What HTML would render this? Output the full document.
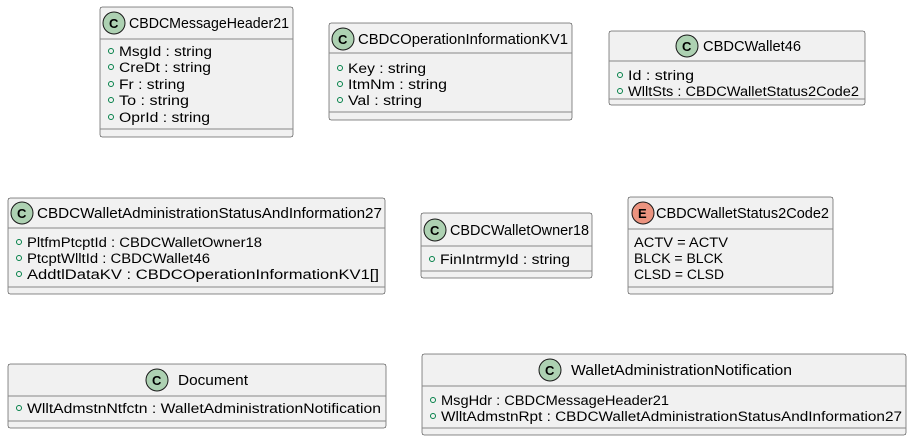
<!DOCTYPE html>
<html><head><meta charset="utf-8"><style>
html,body{margin:0;padding:0;background:#fff;}
svg{display:block;font-family:"Liberation Sans",sans-serif;}
.b{fill:#F1F1F1;stroke:#181818;stroke-width:0.5;}
.s{stroke:#888;stroke-width:1;}
.t{font-size:14.5px;fill:#000;}
.a{font-size:13.5px;fill:#000;}
.v{fill:none;stroke:#038048;stroke-width:1;}
.ci{fill:#ADD1B2;stroke:#181818;stroke-width:1;}
.ei{fill:#EB937F;stroke:#181818;stroke-width:1;}
.l{font-size:13px;font-weight:bold;fill:#000;}
</style></head><body>
<svg width="913" height="441" viewBox="0 0 913 441" xmlns="http://www.w3.org/2000/svg">
<!-- Box1 -->
<rect class="b" x="100" y="7" width="193" height="130" rx="2"/>
<line class="s" x1="100" y1="39" x2="293" y2="39"/><line class="s" x1="100" y1="129" x2="293" y2="129"/>
<circle class="ci" cx="114" cy="23" r="11"/><text class="l" x="109" y="28">C</text>
<text class="t" x="129" y="28" textLength="160" lengthAdjust="spacingAndGlyphs">CBDCMessageHeader21</text>
<circle class="v" cx="111" cy="51" r="2.5"/><text class="a" x="119" y="56" textLength="93" lengthAdjust="spacingAndGlyphs">MsgId : string</text>
<circle class="v" cx="111" cy="67" r="2.5"/><text class="a" x="119" y="72" textLength="92" lengthAdjust="spacingAndGlyphs">CreDt : string</text>
<circle class="v" cx="111" cy="84" r="2.5"/><text class="a" x="119" y="89" textLength="66" lengthAdjust="spacingAndGlyphs">Fr : string</text>
<circle class="v" cx="111" cy="100" r="2.5"/><text class="a" x="119" y="105" textLength="70" lengthAdjust="spacingAndGlyphs">To : string</text>
<circle class="v" cx="111" cy="117" r="2.5"/><text class="a" x="119" y="122" textLength="91" lengthAdjust="spacingAndGlyphs">OprId : string</text>
<!-- Box2 -->
<rect class="b" x="329" y="23" width="243" height="97" rx="2"/>
<line class="s" x1="329" y1="53" x2="572" y2="53"/><line class="s" x1="329" y1="112" x2="572" y2="112"/>
<circle class="ci" cx="343" cy="39" r="11"/><text class="l" x="338" y="44">C</text>
<text class="t" x="358" y="44" textLength="210" lengthAdjust="spacingAndGlyphs">CBDCOperationInformationKV1</text>
<circle class="v" cx="340" cy="68" r="2.5"/><text class="a" x="348" y="73" textLength="78" lengthAdjust="spacingAndGlyphs">Key : string</text>
<circle class="v" cx="340" cy="84" r="2.5"/><text class="a" x="348" y="89" textLength="99" lengthAdjust="spacingAndGlyphs">ItmNm : string</text>
<circle class="v" cx="340" cy="100" r="2.5"/><text class="a" x="348" y="105" textLength="74" lengthAdjust="spacingAndGlyphs">Val : string</text>
<!-- Box3 -->
<rect class="b" x="609" y="31" width="256" height="74" rx="2"/>
<line class="s" x1="609" y1="61" x2="865" y2="61"/><line class="s" x1="609" y1="99" x2="865" y2="99"/>
<circle class="ci" cx="687" cy="46" r="11"/><text class="l" x="682" y="51">C</text>
<text class="t" x="703" y="51" textLength="98" lengthAdjust="spacingAndGlyphs">CBDCWallet46</text>
<circle class="v" cx="620" cy="75" r="2.5"/><text class="a" x="628" y="80" textLength="66" lengthAdjust="spacingAndGlyphs">Id : string</text>
<circle class="v" cx="620" cy="91" r="2.5"/><text class="a" x="628" y="96" textLength="231" lengthAdjust="spacingAndGlyphs">WlltSts : CBDCWalletStatus2Code2</text>
<!-- Box4 -->
<rect class="b" x="8" y="198" width="377" height="96" rx="2"/>
<line class="s" x1="8" y1="228" x2="385" y2="228"/><line class="s" x1="8" y1="287" x2="385" y2="287"/>
<circle class="ci" cx="22" cy="213" r="11"/><text class="l" x="17" y="218">C</text>
<text class="t" x="37" y="218" textLength="345" lengthAdjust="spacingAndGlyphs">CBDCWalletAdministrationStatusAndInformation27</text>
<circle class="v" cx="19" cy="242" r="2.5"/><text class="a" x="27" y="247" textLength="235" lengthAdjust="spacingAndGlyphs">PltfmPtcptId : CBDCWalletOwner18</text>
<circle class="v" cx="19" cy="258" r="2.5"/><text class="a" x="27" y="263" textLength="183" lengthAdjust="spacingAndGlyphs">PtcptWlltId : CBDCWallet46</text>
<circle class="v" cx="19" cy="274" r="2.5"/><text class="a" x="27" y="279" textLength="352" lengthAdjust="spacingAndGlyphs">AddtlDataKV : CBDCOperationInformationKV1[]</text>
<!-- Box5 -->
<rect class="b" x="421" y="213" width="171" height="65" rx="2"/>
<line class="s" x1="421" y1="246" x2="592" y2="246"/><line class="s" x1="421" y1="271" x2="592" y2="271"/>
<circle class="ci" cx="435" cy="230" r="11"/><text class="l" x="430" y="235">C</text>
<text class="t" x="450" y="235" textLength="139" lengthAdjust="spacingAndGlyphs">CBDCWalletOwner18</text>
<circle class="v" cx="432" cy="259" r="2.5"/><text class="a" x="440" y="264" textLength="130" lengthAdjust="spacingAndGlyphs">FinIntrmyId : string</text>
<!-- Box6 -->
<rect class="b" x="628" y="197" width="205" height="97" rx="2"/>
<line class="s" x1="628" y1="229" x2="833" y2="229"/><line class="s" x1="628" y1="287" x2="833" y2="287"/>
<circle class="ei" cx="643" cy="213" r="11"/><text class="l" x="638" y="218">E</text>
<text class="t" x="656" y="218" textLength="173" lengthAdjust="spacingAndGlyphs">CBDCWalletStatus2Code2</text>
<text class="a" x="634" y="247" textLength="94" lengthAdjust="spacingAndGlyphs">ACTV = ACTV</text>
<text class="a" x="634" y="263" textLength="89" lengthAdjust="spacingAndGlyphs">BLCK = BLCK</text>
<text class="a" x="634" y="279" textLength="90" lengthAdjust="spacingAndGlyphs">CLSD = CLSD</text>
<!-- Box7 -->
<rect class="b" x="8" y="364" width="378" height="64" rx="2"/>
<line class="s" x1="8" y1="396" x2="386" y2="396"/><line class="s" x1="8" y1="421" x2="386" y2="421"/>
<circle class="ci" cx="157" cy="380" r="11"/><text class="l" x="152" y="385">C</text>
<text class="t" x="178" y="385" textLength="70" lengthAdjust="spacingAndGlyphs">Document</text>
<circle class="v" cx="19" cy="408" r="2.5"/><text class="a" x="27" y="413" textLength="354" lengthAdjust="spacingAndGlyphs">WlltAdmstnNtfctn : WalletAdministrationNotification</text>
<!-- Box8 -->
<rect class="b" x="422" y="354" width="484" height="81" rx="2"/>
<line class="s" x1="422" y1="386" x2="906" y2="386"/><line class="s" x1="422" y1="428" x2="906" y2="428"/>
<circle class="ci" cx="550" cy="370" r="11"/><text class="l" x="545" y="375">C</text>
<text class="t" x="571" y="375" textLength="221" lengthAdjust="spacingAndGlyphs">WalletAdministrationNotification</text>
<circle class="v" cx="433" cy="400" r="2.5"/><text class="a" x="441" y="405" textLength="228" lengthAdjust="spacingAndGlyphs">MsgHdr : CBDCMessageHeader21</text>
<circle class="v" cx="433" cy="416" r="2.5"/><text class="a" x="441" y="421" textLength="461" lengthAdjust="spacingAndGlyphs">WlltAdmstnRpt : CBDCWalletAdministrationStatusAndInformation27</text>
</svg>
</body></html>
